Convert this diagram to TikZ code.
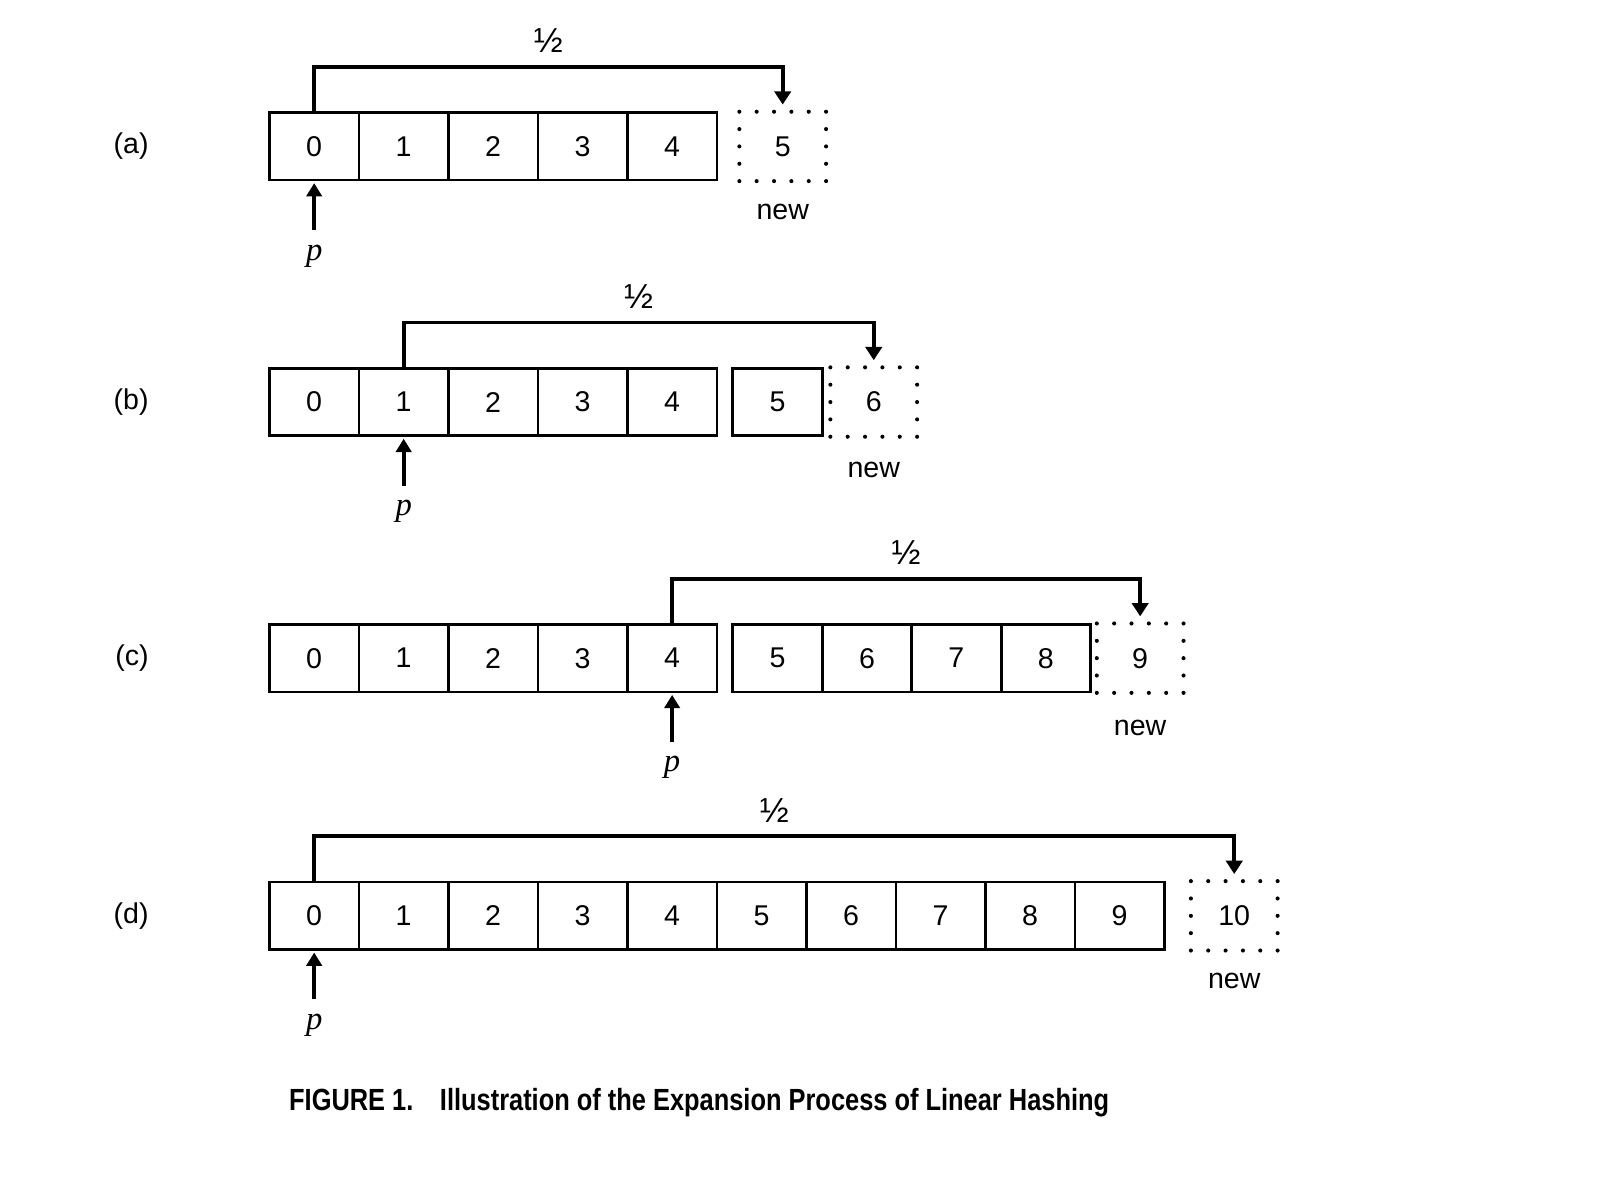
\documentclass[tikz,border=0pt]{standalone}
\usepackage{fontspec}
\setmainfont{Liberation Sans}
\newfontfamily\pfont{Liberation Serif}
\newfontfamily\capfont[FakeStretch=0.83]{Liberation Sans}
\usetikzlibrary{arrows.meta,positioning}
\tikzset{
  lh/bucket/.style={draw, line width=1.3pt, minimum width=43.85pt, minimum height=33pt, inner sep=0pt, outer sep=0pt, font=\fontsize{14}{16}\selectfont},
  lh/newbucket/.style={lh/bucket, minimum width=42.5pt, minimum height=34pt, line width=2pt, line cap=round, dash pattern=on 0pt off 8.5pt},
  lh/split/.style={line width=1.9pt, -{Triangle[width=8pt,length=6.5pt]}, shorten >=3.5pt},
  lh/ptr/.style={line width=1.9pt, -{Triangle[width=7.5pt,length=6.5pt]}, shorten <=7pt, shorten >=1.5pt},
  lh/tag/.style={font=\fontsize{14}{16}\selectfont, inner sep=0pt},
  lh/new/.style={font=\fontsize{14}{16}\selectfont, inner sep=0pt},
  lh/p/.style={font=\fontsize{16}{18}\selectfont\pfont\itshape, inner sep=0pt},
  lh/half/.style={font=\fontsize{17}{19}\selectfont, inner sep=0pt},
  lh/caption/.style={font=\fontsize{15}{18}\selectfont\capfont\bfseries, inner sep=0pt, anchor=west}
}

\begin{document}
\begin{tikzpicture}[x=0.5pt, y=-0.5pt]
\useasboundingbox (0,0) rectangle (1568,1154);

\node[lh/bucket] (a0) at (307.9,143.5) {0};
\foreach \i [remember=\i as \j (initially 0)] in {1,...,4}
  \node[lh/bucket, right=0pt of a\j] (a\i) {\i};
\node[lh/newbucket, right=11pt of a4] (a5) {5};
\node[lh/new, below=11pt of a5] (anew) {new};
\node[lh/p, below=31.5pt of a0] (ap) {p};
\node[lh/tag, left=59pt of a0] (atag) {(a)};
\draw[lh/ptr] (ap) -- (a0);
\draw[lh/split] (a0.north) -- ++(0,22.5pt) -| node[pos=0.25, lh/half, above=6pt] {½} (a5.north);

\node[lh/bucket] (b0) at (307.9,394) {0};
\foreach \i [remember=\i as \j (initially 0)] in {1,...,4}
  \node[lh/bucket, right=0pt of b\j] (b\i) {\i};
\node[lh/bucket, right=7.75pt of b4] (b5) {5};
\node[lh/newbucket, right=4pt of b5] (b6) {6};
\node[lh/new, below=12pt of b6] (bnew) {new};
\node[lh/p, below=31.5pt of b1] (bp) {p};
\node[lh/tag, left=59pt of b0] (btag) {(b)};
\draw[lh/ptr] (bp) -- (b1);
\draw[lh/split] (b1.north) -- ++(0,22.5pt) -| node[pos=0.25, lh/half, above=6pt] {½} (b6.north);

\node[lh/bucket] (c0) at (307.9,645) {0};
\foreach \i [remember=\i as \j (initially 0)] in {1,...,4}
  \node[lh/bucket, right=0pt of c\j] (c\i) {\i};
\node[lh/bucket, right=7.75pt of c4] (c5) {5};
\foreach \i [remember=\i as \j (initially 5)] in {6,...,8}
  \node[lh/bucket, right=0pt of c\j] (c\i) {\i};
\node[lh/newbucket, right=3pt of c8] (c9) {9};
\node[lh/new, below=13pt of c9] (cnew) {new};
\node[lh/p, below=31.5pt of c4] (cp) {p};
\node[lh/tag, left=59pt of c0] (ctag) {(c)};
\draw[lh/ptr] (cp) -- (c4);
\draw[lh/split] (c4.north) -- ++(0,22.5pt) -| node[pos=0.25, lh/half, above=6pt] {½} (c9.north);

\node[lh/bucket] (d0) at (307.9,897.5) {0};
\foreach \i [remember=\i as \j (initially 0)] in {1,...,9}
  \node[lh/bucket, right=0pt of d\j] (d\i) {\i};
\node[lh/newbucket, right=13pt of d9] (d10) {10};
\node[lh/new, below=11pt of d10] (dnew) {new};
\node[lh/p, below=31.5pt of d0] (dp) {p};
\node[lh/tag, left=59pt of d0] (dtag) {(d)};
\draw[lh/ptr] (dp) -- (d0);
\draw[lh/split] (d0.north) -- ++(0,22.5pt) -| node[pos=0.25, lh/half, above=6pt] {½} (d10.north);

\node[lh/caption] (caption) at (283,1081) {FIGURE 1.\hspace{13pt}Illustration of the Expansion Process of Linear Hashing};
\end{tikzpicture}
\end{document}
